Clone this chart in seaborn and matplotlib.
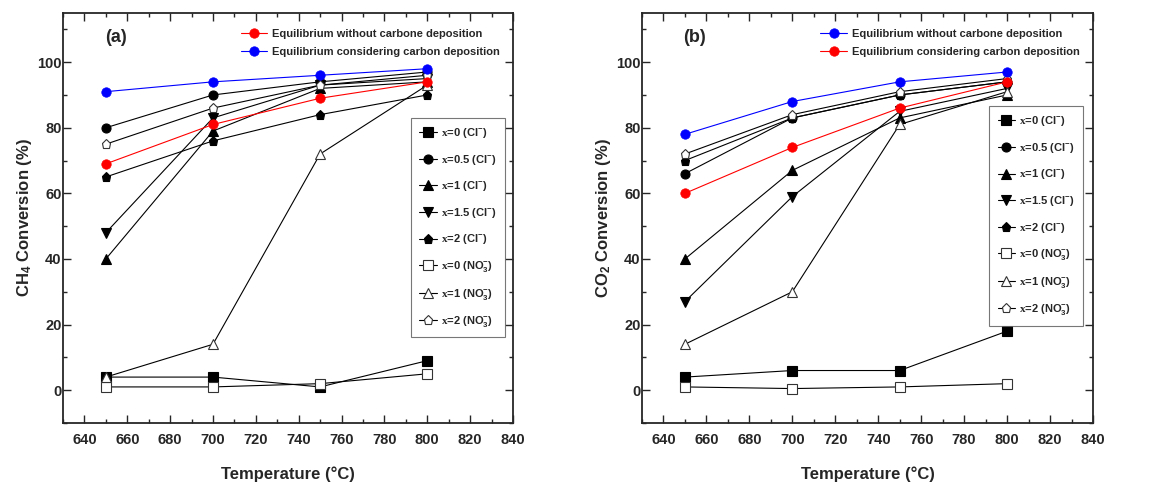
import matplotlib
matplotlib.use("Agg")
import matplotlib.pyplot as plt
import seaborn as sns
import pandas as pd
from matplotlib.ticker import MultipleLocator

sns.set_style("ticks")
FAM = ['Liberation Sans', 'DejaVu Sans']
plt.rcParams['font.family'] = FAM
plt.rcParams['font.weight'] = 'bold'
plt.rcParams['mathtext.fontset'] = 'custom'
plt.rcParams['mathtext.rm'] = 'Liberation Serif'
plt.rcParams['mathtext.default'] = 'regular'

# ---------------- data ----------------
temps = [650, 700, 750, 800]

series_labels = [r"$\mathrm{x}$=0 (Cl$^{-}$)", r"$\mathrm{x}$=0.5 (Cl$^{-}$)",
                 r"$\mathrm{x}$=1 (Cl$^{-}$)", r"$\mathrm{x}$=1.5 (Cl$^{-}$)",
                 r"$\mathrm{x}$=2 (Cl$^{-}$)", r"$\mathrm{x}$=0 (NO$_3^{-}$)",
                 r"$\mathrm{x}$=1 (NO$_3^{-}$)", r"$\mathrm{x}$=2 (NO$_3^{-}$)"]

# Panel (a) CH4 conversion
ch4_x0_cl = [4, 4, 1, 9]
ch4_x05_cl = [80, 90, 94, 97]
ch4_x1_cl = [40, 79, 92, 94]
ch4_x15_cl = [48, 83, 93, 95]
ch4_x2_cl = [65, 76, 84, 90]
ch4_x0_no3 = [1, 1, 2, 5]
ch4_x1_no3 = [4, 14, 72, 93]
ch4_x2_no3 = [75, 86, 93, 96]
ch4_eq_nocarbon = [69, 81, 89, 94]
ch4_eq_carbon = [91, 94, 96, 98]

# Panel (b) CO2 conversion
co2_x0_cl = [4, 6, 6, 18]
co2_x05_cl = [66, 83, 90, 94]
co2_x1_cl = [40, 67, 83, 90]
co2_x15_cl = [27, 59, 85, 92]
co2_x2_cl = [70, 83, 90, 94]
co2_x0_no3 = [1, 0.5, 1, 2]
co2_x1_no3 = [14, 30, 81, 91]
co2_x2_no3 = [72, 84, 91, 95]
co2_eq_nocarbon = [78, 88, 94, 97]
co2_eq_carbon = [60, 74, 86, 94]

eq_labels = ["Equilibrium without carbone deposition",
             "Equilibrium considering carbon deposition"]

# ---------------- styles ----------------
styles = [
    dict(marker='s', mfc='black'),
    dict(marker='o', mfc='black'),
    dict(marker='^', mfc='black'),
    dict(marker='v', mfc='black'),
    dict(marker='p', mfc='black'),
    dict(marker='s', mfc='white'),
    dict(marker='^', mfc='white'),
    dict(marker='p', mfc='white'),
]

fig = plt.figure(figsize=(11.64, 4.83), dpi=100)
ax_a = fig.add_axes([0.0541, 0.1242, 0.3866, 0.849])
ax_b = fig.add_axes([0.5515, 0.1242, 0.3875, 0.849])


def draw(ax, exp_series, eq_nc, eq_c, eq_colors, tag, ylabel, leg2_anchor):
    handles = []
    for vals, st, lab in zip(exp_series, styles, series_labels):
        df = pd.DataFrame({"T": temps, "v": vals})
        sns.lineplot(data=df, x="T", y="v", ax=ax, color='black', linewidth=0.8,
                     marker=st['marker'], markersize=6.5,
                     markerfacecolor=st['mfc'],
                     markeredgecolor='black' if st['mfc'] == 'black' else '#333333',
                     markeredgewidth=0.8, legend=False)
        handles.append(ax.lines[-1])
    eq_handles = []
    for vals, col in zip([eq_nc, eq_c], eq_colors):
        df = pd.DataFrame({"T": temps, "v": vals})
        sns.lineplot(data=df, x="T", y="v", ax=ax, color=col, linewidth=0.8,
                     marker='o', markersize=6.8, markerfacecolor=col,
                     markeredgecolor=col, markeredgewidth=0.5, legend=False)
        eq_handles.append(ax.lines[-1])

    ax.set_xlim(630, 840)
    ax.set_ylim(-10, 115)
    ax.xaxis.set_minor_locator(MultipleLocator(10))
    ax.yaxis.set_minor_locator(MultipleLocator(10))
    ax.set_xticks(range(640, 841, 20))
    ax.set_yticks(range(0, 101, 20))
    ax.tick_params(axis='both', which='both', direction='in', top=True, right=True,
                   labeltop=False, labelright=False, width=1.0)
    ax.tick_params(axis='both', which='major', length=5.5, labelsize=10.5)
    ax.tick_params(axis='both', which='minor', length=3)
    ax.tick_params(axis='x', which='major', pad=7)
    ax.tick_params(axis='y', which='major', pad=1)
    for lbl in ax.get_xticklabels() + ax.get_yticklabels():
        lbl.set_fontweight('bold')
    for sp in ax.spines.values():
        sp.set_linewidth(1.3)
        sp.set_visible(True)
    ax.set_xlabel("Temperature (°C)", fontsize=12, fontweight='bold', labelpad=14)
    ax.set_ylabel(ylabel, fontsize=12, fontweight='bold', labelpad=2)
    ax.text(0.117, 0.941, tag, transform=ax.transAxes, fontsize=13, fontweight='bold',
            ha='center', va='center')

    leg1 = ax.legend(eq_handles, eq_labels, loc='upper left',
                     bbox_to_anchor=(0.381, 0.978), frameon=False, fontsize=8,
                     handlelength=2.35, handletextpad=0.45, labelspacing=0.72,
                     borderaxespad=0.2)
    ax.add_artist(leg1)
    leg2 = ax.legend(handles, series_labels, loc='upper right',
                     bbox_to_anchor=leg2_anchor, frameon=True, fancybox=False,
                     fontsize=8, handlelength=1.55, handletextpad=0.4,
                     labelspacing=1.13, borderpad=0.75, borderaxespad=0.0)
    leg2.get_frame().set_edgecolor('#555555')
    leg2.get_frame().set_linewidth(0.8)


draw(ax_a,
     [ch4_x0_cl, ch4_x05_cl, ch4_x1_cl, ch4_x15_cl, ch4_x2_cl,
      ch4_x0_no3, ch4_x1_no3, ch4_x2_no3],
     ch4_eq_nocarbon, ch4_eq_carbon, ['#FF0000', '#0000FF'], "(a)",
     "CH$_4$ Conversion (%)", (0.982, 0.744))
draw(ax_b,
     [co2_x0_cl, co2_x05_cl, co2_x1_cl, co2_x15_cl, co2_x2_cl,
      co2_x0_no3, co2_x1_no3, co2_x2_no3],
     co2_eq_nocarbon, co2_eq_carbon, ['#0000FF', '#FF0000'], "(b)",
     "CO$_2$ Conversion (%)", (0.978, 0.773))

fig.savefig("out.png", dpi=100)
